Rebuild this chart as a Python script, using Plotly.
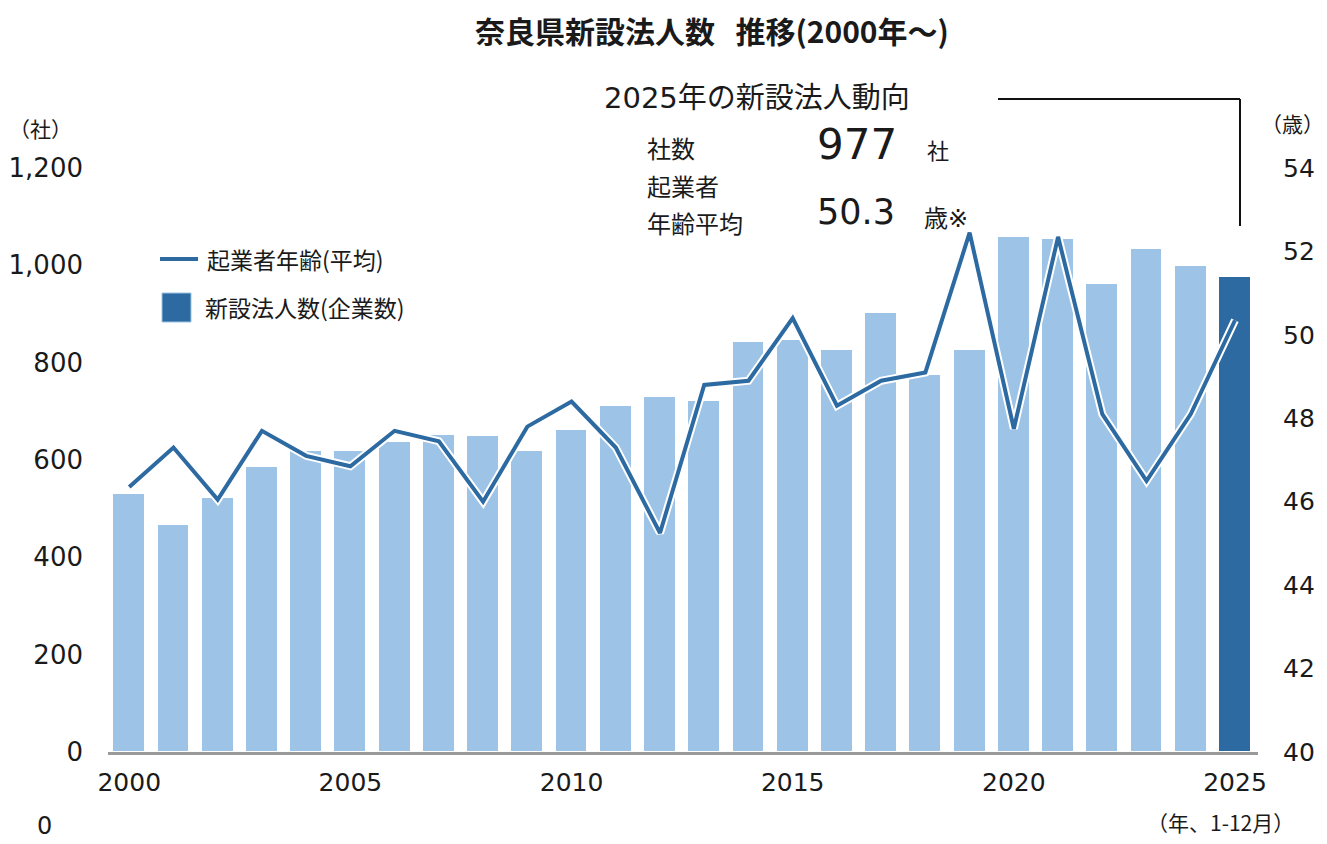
import plotly.graph_objects as go

years = list(range(2000, 2026))
companies = [530, 466, 522, 586, 618, 618, 637, 651, 649, 618, 662, 711, 729, 721,
             842, 847, 826, 902, 775, 826, 1058, 1054, 962, 1034, 999, 977]
avg_age = [46.35, 47.3, 46.05, 47.7, 47.1, 46.85, 47.7, 47.45, 46.0, 47.8, 48.4, 47.3,
           45.25, 48.8, 48.9, 50.4, 48.3, 48.9, 49.1, 52.45, 47.75, 52.35, 48.1, 46.5,
           48.1, 50.35]
left_ticks = [0, 200, 400, 600, 800, 1000, 1200]
left_labels = ["0", "200", "400", "600", "800", "1,000", "1,200"]
right_ticks = [40, 42, 44, 46, 48, 50, 52, 54]
x_ticks = [2000, 2005, 2010, 2015, 2020, 2025]

LIGHT = "#9DC3E6"
DARK = "#2C6AA1"
LINE = "#2C6AA1"
FONT = "DejaVu Sans, Noto Sans CJK JP"
CJK = "Noto Sans CJK JP"
INK = "#1a1a1a"

bar_colors = [LIGHT] * (len(years) - 1) + [DARK]

fig = go.Figure()
fig.add_trace(go.Bar(x=years, y=companies, marker=dict(color=bar_colors, line=dict(color="white", width=1)),
                     width=0.72, showlegend=False, hoverinfo="skip"))
fig.add_trace(go.Scatter(x=years, y=avg_age, yaxis="y2", mode="lines",
                         line=dict(color="white", width=8), showlegend=False, hoverinfo="skip"))
fig.add_trace(go.Scatter(x=years, y=avg_age, yaxis="y2", mode="lines",
                         line=dict(color=LINE, width=4), showlegend=False))

fig.update_layout(
    width=1319, height=836,
    paper_bgcolor="white", plot_bgcolor="white",
    margin=dict(l=100, r=69, t=160, b=92),
    font=dict(family=FONT, color=INK),
    bargap=0,
    xaxis=dict(range=[1999.52, 2025.52], tickvals=x_ticks, ticktext=[str(v) for v in x_ticks],
               showgrid=False, zeroline=False, showline=True, linecolor="#9a9a9a", linewidth=3,
               tickfont=dict(size=25, family=FONT, color=INK), ticklabelstandoff=6, automargin=False),
    yaxis=dict(range=[0, 1200], tickvals=left_ticks, ticktext=left_labels,
               showgrid=False, zeroline=False, showline=False, automargin=False,
               tickfont=dict(size=26, family=FONT, color=INK), ticklabelstandoff=24),
    yaxis2=dict(range=[40, 54], tickvals=right_ticks, ticktext=[str(v) for v in right_ticks],
                overlaying="y", side="right", showgrid=False, zeroline=False, showline=False,
                automargin=False,
                tickfont=dict(size=25, family=FONT, color=INK), ticklabelstandoff=24),
)

ann = []
def text(x, y, s, size, xanchor="left", bold=False, family=FONT):
    ann.append(dict(x=x, y=y, xref="paper", yref="paper", text=("<b>%s</b>" % s) if bold else s,
                    showarrow=False, xanchor=xanchor, yanchor="middle", borderpad=0,
                    font=dict(size=size, family=family, color=INK)))

pl, pr, pt, pb = 108, 1258, 168, 752
def px(x):
    return (x - pl) / (pr - pl)
def py(y):
    return (pb - y) / (pb - pt)

text(px(712), py(30), "奈良県新設法人数&nbsp;&nbsp;&nbsp;推移(2000年～)", 30, "center", bold=True, family=CJK)
text(px(603), py(98), "2025年の新設法人動向", 29)
text(px(646), py(150), "社数", 24)
text(px(816), py(144), "977", 42)
text(px(926), py(152), "社", 22)
text(px(646), py(188), "起業者", 24)
text(px(646), py(225), "年齢平均", 24)
text(px(816), py(212), "50.3", 35)
text(px(923), py(219), "歳※", 24)
text(px(8), py(128), "（社）", 21, family=CJK)
text(px(1260), py(123), "（歳）", 21, family=CJK)
text(px(1146), py(822), "（年、1-12月）", 21, family=CJK)
text(px(36), py(826), "0", 24)
text(px(206), py(259), "起業者年齢(平均)", 23, family=CJK)
text(px(204), py(307), "新設法人数(企業数)", 23, family=CJK)
fig.update_layout(annotations=ann)

shapes = [
    dict(type="line", xref="paper", yref="paper", x0=px(998), x1=px(1240), y0=py(99), y1=py(99),
         line=dict(color="#111111", width=2)),
    dict(type="line", xref="paper", yref="paper", x0=px(1240), x1=px(1240), y0=py(99), y1=py(226),
         line=dict(color="#111111", width=2)),
    dict(type="line", xref="paper", yref="paper", x0=px(160), x1=px(198), y0=py(259), y1=py(259),
         line=dict(color=LINE, width=4)),
    dict(type="rect", xref="paper", yref="paper", x0=px(162), x1=px(191), y0=py(322), y1=py(293),
         fillcolor=DARK, line=dict(color=LIGHT, width=1)),
]
fig.update_layout(shapes=shapes)

fig.write_html("out.html")
